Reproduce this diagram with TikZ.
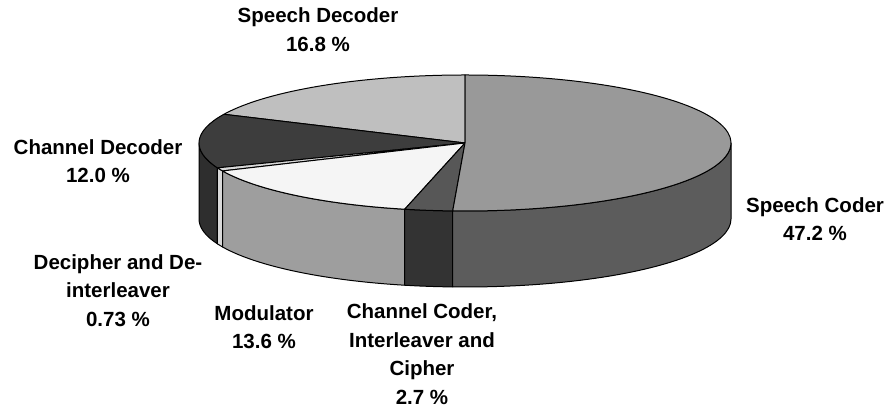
\documentclass[tikz,border=0pt]{standalone}
\usepackage{fontspec}
\setmainfont{Liberation Sans}

% pie geometry (pt)
\def\pierx{266}
\def\piery{68}
\def\pieh{76}

% top face of one slice: start angle, end angle, fill
\newcommand{\topslice}[3]{%
  \filldraw[slice, fill=#3] (pc) -- ++(#1:\pierx pt and \piery pt)
    arc[start angle=#1, end angle=#2, x radius=\pierx pt, y radius=\piery pt] -- cycle;}
% outer wall of one slice (front half only)
\newcommand{\sidewall}[3]{%
  \filldraw[slice, fill=#3] (pc) ++(#1:\pierx pt and \piery pt)
    arc[start angle=#1, end angle=#2, x radius=\pierx pt, y radius=\piery pt]
    -- ++(0,-\pieh)
    arc[start angle=#2, end angle=#1, x radius=\pierx pt, y radius=\piery pt] -- cycle;}

\tikzset{
  slice/.style={draw=black, line width=1pt, line join=round},
  lbl/.style={font=\bfseries\fontsize{20.5}{28.5}\selectfont, align=center, inner sep=0pt},
}

\begin{document}
\begin{tikzpicture}[x=1pt, y=1pt]
  \useasboundingbox (0,0) rectangle (888,411);
  \coordinate (pc) at (465,268);

  % walls
  \sidewall{180}{201.45}{black!82}
  \sidewall{201.45}{204.27}{black!15}
  \sidewall{204.27}{256.90}{black!38}
  \sidewall{256.90}{267.35}{black!80}
  \sidewall{267.35}{360}{black!64}

  % tops
  \topslice{90}{155.01}{black!25}
  \topslice{155.01}{201.45}{black!76}
  \topslice{201.45}{204.27}{black!15}
  \topslice{204.27}{256.90}{black!4}
  \topslice{256.90}{267.35}{black!66}
  \topslice{267.35}{450}{black!40}

  % labels
  \node[lbl] (sdec) at (318,381.5) {Speech Decoder\\16.8 \%};
  \node[lbl] (cdec) at (98,250) {Channel Decoder\\12.0 \%};
  \node[lbl] (scod) at (815,192) {Speech Coder\\47.2 \%};
  \node[lbl] (decip) at (118,120.5) {Decipher and De-\\interleaver\\0.73 \%};
  \node[lbl] (modu) at (264,84) {Modulator\\13.6 \%};
  \node[lbl] (ccod) at (422,57) {Channel Coder,\\Interleaver and\\Cipher\\2.7 \%};
\end{tikzpicture}
\end{document}
